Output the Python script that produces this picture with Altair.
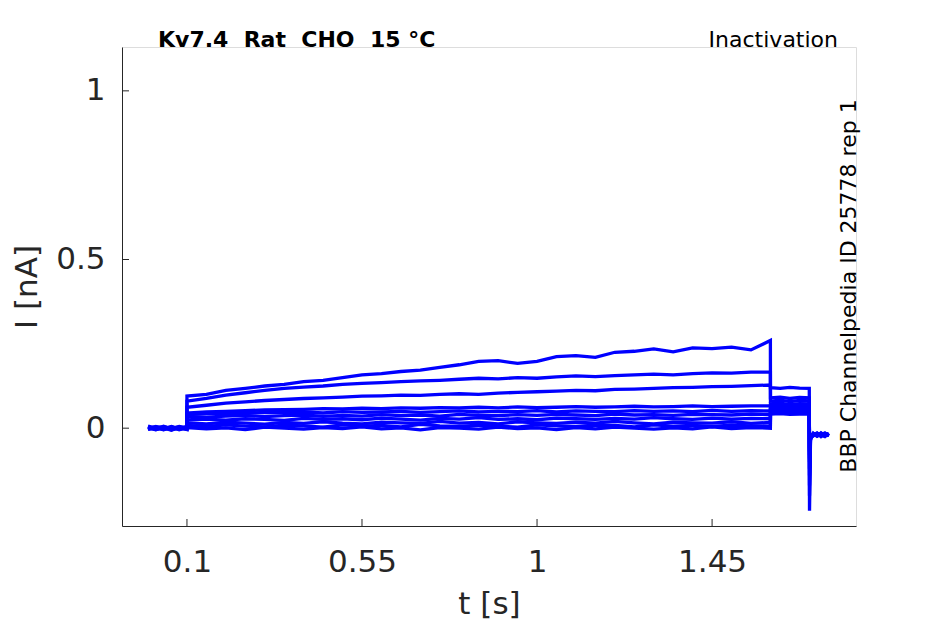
import altair as alt
import pandas as pd

# ---- time grids (s) ----
T_BASE = [0.0, 0.02, 0.04, 0.06, 0.08, 0.0999]
T_STEP1 = [0.10, 0.15, 0.20, 0.25, 0.30, 0.35, 0.40, 0.45, 0.50, 0.55, 0.60,
           0.65, 0.70, 0.75, 0.80, 0.85, 0.90, 0.95, 1.00, 1.05, 1.10, 1.15,
           1.20, 1.25, 1.30, 1.35, 1.40, 1.45, 1.50, 1.55, 1.5999]
T_STEP2 = [1.6001, 1.625, 1.65, 1.675, 1.6999]
T_TAIL = [1.7005, 1.703, 1.71, 1.72, 1.73, 1.74, 1.75]

# ---- currents (nA), one list per sweep ----
BASE = [
    [0.004, -0.003, 0.002, -0.005, 0.001, 0.003],
    [-0.002, 0.005, -0.004, 0.002, -0.001, 0.004],
    [0.003, -0.001, 0.006, -0.003, 0.002, -0.002],
    [-0.004, 0.002, -0.002, 0.004, -0.005, 0.001],
    [0.001, -0.005, 0.003, 0.000, 0.004, -0.003],
    [0.006, 0.000, -0.003, 0.005, -0.002, 0.002],
    [-0.001, 0.003, 0.001, -0.006, 0.003, 0.000],
    [0.002, -0.004, 0.004, 0.001, -0.003, 0.005],
    [-0.003, 0.001, -0.005, 0.003, 0.000, -0.004],
    [0.000, 0.004, 0.002, -0.002, 0.005, 0.001],
]
STEP1 = [
    [0.095, 0.100, 0.112, 0.118, 0.125, 0.130, 0.138, 0.142, 0.150, 0.158, 0.162,
     0.168, 0.172, 0.180, 0.188, 0.198, 0.200, 0.192, 0.198, 0.212, 0.215, 0.210,
     0.225, 0.228, 0.235, 0.226, 0.238, 0.236, 0.240, 0.232, 0.260],
    [0.080, 0.088, 0.098, 0.105, 0.112, 0.118, 0.122, 0.125, 0.130, 0.133, 0.135,
     0.138, 0.140, 0.142, 0.145, 0.148, 0.146, 0.150, 0.148, 0.152, 0.155, 0.153,
     0.156, 0.158, 0.160, 0.158, 0.162, 0.164, 0.163, 0.166, 0.166],
    [0.062, 0.068, 0.074, 0.078, 0.082, 0.085, 0.088, 0.090, 0.092, 0.095, 0.096,
     0.098, 0.097, 0.100, 0.102, 0.100, 0.104, 0.106, 0.108, 0.110, 0.112, 0.111,
     0.115, 0.116, 0.118, 0.120, 0.121, 0.123, 0.124, 0.126, 0.128],
    [0.045, 0.048, 0.050, 0.052, 0.054, 0.055, 0.056, 0.058, 0.057, 0.059, 0.058,
     0.060, 0.059, 0.061, 0.060, 0.062, 0.060, 0.063, 0.061, 0.062, 0.064, 0.062,
     0.063, 0.065, 0.063, 0.064, 0.066, 0.064, 0.065, 0.066, 0.066],
    [0.040, 0.043, 0.045, 0.044, 0.047, 0.046, 0.048, 0.045, 0.049, 0.047, 0.048,
     0.050, 0.047, 0.049, 0.051, 0.048, 0.050, 0.049, 0.052, 0.048, 0.051, 0.050,
     0.049, 0.052, 0.050, 0.051, 0.049, 0.053, 0.050, 0.052, 0.051],
    [0.035, 0.033, 0.036, 0.038, 0.034, 0.037, 0.039, 0.035, 0.038, 0.036, 0.040,
     0.037, 0.039, 0.036, 0.041, 0.038, 0.037, 0.040, 0.038, 0.041, 0.039, 0.037,
     0.042, 0.039, 0.040, 0.038, 0.041, 0.040, 0.039, 0.042, 0.040],
    [0.025, 0.027, 0.024, 0.028, 0.026, 0.023, 0.029, 0.026, 0.028, 0.025, 0.030,
     0.027, 0.024, 0.029, 0.027, 0.031, 0.026, 0.028, 0.025, 0.030, 0.028, 0.026,
     0.029, 0.027, 0.031, 0.028, 0.026, 0.030, 0.027, 0.029, 0.028],
    [0.016, 0.013, 0.018, 0.015, 0.012, 0.017, 0.014, 0.019, 0.015, 0.013, 0.018,
     0.016, 0.014, 0.020, 0.015, 0.017, 0.013, 0.019, 0.016, 0.014, 0.018, 0.015,
     0.020, 0.016, 0.013, 0.018, 0.016, 0.015, 0.019, 0.014, 0.017],
    [0.008, 0.005, 0.010, 0.006, 0.004, 0.009, 0.007, 0.003, 0.010, 0.006, 0.008,
     0.004, 0.011, 0.007, 0.005, 0.009, 0.006, 0.003, 0.010, 0.007, 0.005, 0.009,
     0.008, 0.004, 0.010, 0.006, 0.008, 0.005, 0.009, 0.007, 0.006],
    [0.002, -0.002, 0.001, -0.004, 0.003, 0.000, -0.003, 0.002, -0.001, 0.004, -0.002,
     0.001, -0.005, 0.002, 0.000, -0.003, 0.003, -0.001, 0.001, -0.004, 0.002, -0.002,
     0.003, 0.000, -0.003, 0.001, -0.002, 0.004, -0.001, 0.002, 0.000],
]
STEP2 = [
    [0.090, 0.092, 0.088, 0.091, 0.090],
    [0.080, 0.083, 0.079, 0.082, 0.081],
    [0.120, 0.118, 0.121, 0.119, 0.118],
    [0.072, 0.074, 0.070, 0.073, 0.072],
    [0.066, 0.064, 0.067, 0.065, 0.066],
    [0.060, 0.062, 0.059, 0.061, 0.060],
    [0.055, 0.057, 0.054, 0.056, 0.055],
    [0.050, 0.052, 0.049, 0.051, 0.050],
    [0.046, 0.047, 0.044, 0.046, 0.045],
    [0.042, 0.043, 0.041, 0.042, 0.042],
]
TAIL = [
    [-0.200, -0.030, -0.018, -0.022, -0.015, -0.020, -0.017],
    [-0.170, -0.028, -0.020, -0.014, -0.023, -0.018, -0.021],
    [-0.245, -0.035, -0.016, -0.021, -0.019, -0.024, -0.015],
    [-0.140, -0.025, -0.022, -0.017, -0.020, -0.014, -0.022],
    [-0.120, -0.027, -0.015, -0.024, -0.018, -0.021, -0.019],
    [-0.100, -0.024, -0.021, -0.016, -0.025, -0.017, -0.020],
    [-0.090, -0.026, -0.019, -0.023, -0.014, -0.022, -0.018],
    [-0.080, -0.023, -0.017, -0.020, -0.021, -0.016, -0.023],
    [-0.070, -0.022, -0.023, -0.015, -0.019, -0.025, -0.016],
    [-0.060, -0.021, -0.018, -0.021, -0.017, -0.019, -0.020],
]

X_TICKS = [0.1, 0.55, 1.0, 1.45]
Y_TICKS = [0.0, 0.5, 1.0]
X_DOMAIN = [-0.067, 1.82]
Y_DOMAIN = [-0.29, 1.13]

NB = "\u00a0"
TITLE = f"Kv7.4{NB}{NB}Rat{NB}{NB}CHO{NB}{NB}15{NB}°C"
PROTOCOL = "Inactivation"
SOURCE = "BBP Channelpedia ID 25778 rep 1"

FONT = "DejaVu Sans"
AX = "#262626"
LBL = "format(datum.value, '~g')"

rows = []
times = T_BASE + T_STEP1 + T_STEP2 + T_TAIL
for k in range(len(STEP1)):
    vals = BASE[k] + STEP1[k] + STEP2[k] + TAIL[k]
    for i, (t, v) in enumerate(zip(times, vals)):
        rows.append({"sweep": k, "order": i, "t": t, "I": v})
df = pd.DataFrame(rows)

W, H = 734, 479
xs = alt.Scale(domain=X_DOMAIN, nice=False, zero=False)
ys = alt.Scale(domain=Y_DOMAIN, nice=False, zero=False)

x_axis = alt.Axis(values=X_TICKS, title="t [s]", grid=False, tickSize=0,
                  labelExpr=LBL,
                  labelPadding=21, labelFontSize=31, titleFontSize=31,
                  titlePadding=12, labelColor=AX, titleColor=AX,
                  domainColor=AX, labelFont=FONT, titleFont=FONT,
                  titleFontWeight="normal", labelFlush=False)
y_axis = alt.Axis(values=Y_TICKS, title="I [nA]", grid=False, tickSize=0,
                  labelExpr=LBL,
                  labelPadding=17, labelFontSize=31, titleFontSize=31,
                  titlePadding=12, labelColor=AX, titleColor=AX,
                  domainColor=AX, labelFont=FONT, titleFont=FONT,
                  titleFontWeight="normal", labelFlush=False)

lines = alt.Chart(df).mark_line(color="#0000ff", strokeWidth=3.3, clip=True).encode(
    x=alt.X("t:Q", scale=xs, axis=x_axis),
    y=alt.Y("I:Q", scale=ys, axis=y_axis),
    detail="sweep:N",
    order="order:Q",
)

xt = alt.Chart(pd.DataFrame({"t": X_TICKS})).mark_rule(color=AX, strokeWidth=1).encode(
    x=alt.X("t:Q", scale=xs, axis=x_axis),
    y=alt.value(H), y2=alt.value(H - 7),
)
yt = alt.Chart(pd.DataFrame({"I": Y_TICKS})).mark_rule(color=AX, strokeWidth=1).encode(
    y=alt.Y("I:Q", scale=ys, axis=y_axis),
    x=alt.value(0), x2=alt.value(7),
)

title = alt.Chart(pd.DataFrame({"s": [TITLE]})).mark_text(
    font=FONT, fontSize=22, fontWeight="bold", align="left", baseline="alphabetic",
    color="black").encode(x=alt.value(36), y=alt.value(0), text="s:N")
proto = alt.Chart(pd.DataFrame({"s": [PROTOCOL]})).mark_text(
    font=FONT, fontSize=22, align="right", baseline="alphabetic",
    color="black").encode(x=alt.value(716), y=alt.value(0), text="s:N")
src = alt.Chart(pd.DataFrame({"s": [SOURCE]})).mark_text(
    font=FONT, fontSize=22, align="center", baseline="middle", angle=270,
    color="black").encode(x=alt.value(727), y=alt.value(239), text="s:N")

chart = alt.layer(lines, xt, yt, title, proto, src).properties(
    width=W, height=H,
    autosize=alt.AutoSizeParams(type="none"),
    padding={"left": 114, "top": 39, "right": 81, "bottom": 96},
).configure_view(strokeWidth=0).configure(background="white")

chart.save("out.html", embed_options={"renderer": "svg", "actions": False})
